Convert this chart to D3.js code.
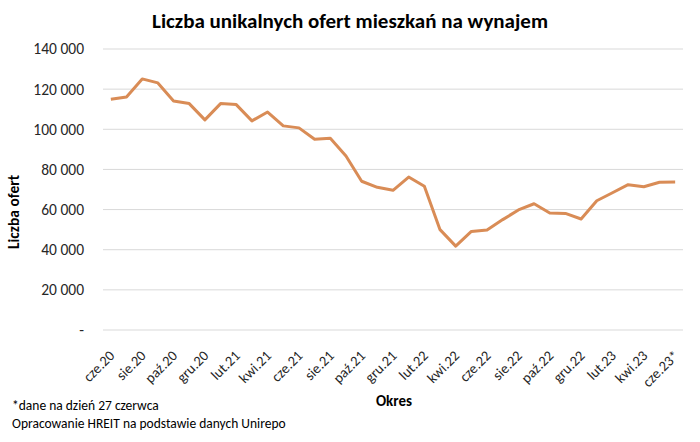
<!DOCTYPE html>
<html>
<head>
<meta charset="utf-8">
<script src="https://cdn.jsdelivr.net/npm/d3@7"></script>
<style>
  body { margin: 0; background: #fff; }
  svg { display: block; font-family: Carlito, "Open Sans", sans-serif; }
</style>
</head>
<body>
<div id="chart"></div>
<script>
// miesiace cze.20 - cze.23
var months = ["cze.20","lip.20","sie.20","wrz.20","paź.20","lis.20","gru.20","sty.21","lut.21","mar.21",
  "kwi.21","maj.21","cze.21","lip.21","sie.21","wrz.21","paź.21","lis.21","gru.21","sty.22",
  "lut.22","mar.22","kwi.22","maj.22","cze.22","lip.22","sie.22","wrz.22","paź.22","lis.22",
  "gru.22","sty.23","lut.23","mar.23","kwi.23","maj.23","cze.23*"];

var offers = [115000,116100,125100,123100,114100,112800,104700,112800,112300,104200,
  108600,101700,100700,95000,95500,86700,74100,71100,69600,76200,
  71600,50000,41800,49100,49800,55000,59800,62900,58300,58100,
  55300,64400,68400,72400,71400,73600,73700];

var yTicks = [0,20000,40000,60000,80000,100000,120000,140000];

var W = 700, H = 442;
var margin = {left: 103, right: 17, top: 49, bottom: 112};

var svg = d3.select("#chart").append("svg").attr("width", W).attr("height", H);

var x = d3.scaleBand().domain(months).range([margin.left, W - margin.right]);
var y = d3.scaleLinear().domain([0, 140000]).range([H - margin.bottom, margin.top]);

function fmt(v) {
    if (v === 0) return "-";
    return d3.format(",")(v).replace(/,/g, " ");
}

// siatka
svg.append("g").selectAll("line").data(yTicks).enter().append("line")
    .attr("x1", margin.left).attr("x2", W - margin.right)
    .attr("y1", function(d) { return y(d); }).attr("y2", function(d) { return y(d); })
    .attr("stroke", "#d9d9d9").attr("stroke-width", 1);

// etykiety osi Y
svg.append("g").selectAll("text").data(yTicks).enter().append("text")
    .attr("x", 84).attr("y", function(d) { return y(d); })
    .attr("dy", "0.35em").attr("text-anchor", "end")
    .attr("font-size", 15.5).attr("fill", "#262626")
    .text(fmt);

// etykiety osi X (co drugi miesiac)
svg.append("g").selectAll("text").data(months.filter(function(d, i) { return i % 2 === 0; }))
    .enter().append("text")
    .attr("transform", function(d) {
        return "translate(" + (x(d) + x.bandwidth() / 2 + 1) + "," + (H - margin.bottom + 23) + ") rotate(-45)";
    })
    .attr("text-anchor", "end").attr("dy", "0.35em")
    .attr("font-size", 14.5).attr("fill", "#262626")
    .text(function(d) { return d; });

// linia
var line = d3.line()
    .x(function(d, i) { return x(months[i]) + x.bandwidth() / 2; })
    .y(function(d) { return y(d); });

svg.append("path").datum(offers)
    .attr("d", line)
    .attr("fill", "none")
    .attr("stroke", "#d98c56")
    .attr("stroke-width", 3)
    .attr("stroke-linejoin", "round");

// tytul
svg.append("text")
    .attr("x", 350).attr("y", 28).attr("text-anchor", "middle")
    .attr("font-size", 21).attr("font-weight", "bold").attr("fill", "#000")
    .text("Liczba unikalnych ofert mieszkań na wynajem");

// tytuly osi
svg.append("text")
    .attr("transform", "translate(19,212) rotate(-90)")
    .attr("text-anchor", "middle")
    .attr("font-size", 15.5).attr("font-weight", "bold").attr("fill", "#000")
    .text("Liczba ofert");

svg.append("text")
    .attr("x", 394).attr("y", 406).attr("text-anchor", "middle")
    .attr("font-size", 15).attr("font-weight", "bold").attr("fill", "#000")
    .text("Okres");

// przypisy
svg.append("text")
    .attr("x", 12).attr("y", 410)
    .attr("font-size", 13.5).attr("fill", "#000")
    .text("*dane na dzień 27 czerwca");

svg.append("text")
    .attr("x", 12).attr("y", 428)
    .attr("font-size", 13.5).attr("fill", "#000")
    .text("Opracowanie HREIT na podstawie danych Unirepo");
</script>
</body>
</html>
